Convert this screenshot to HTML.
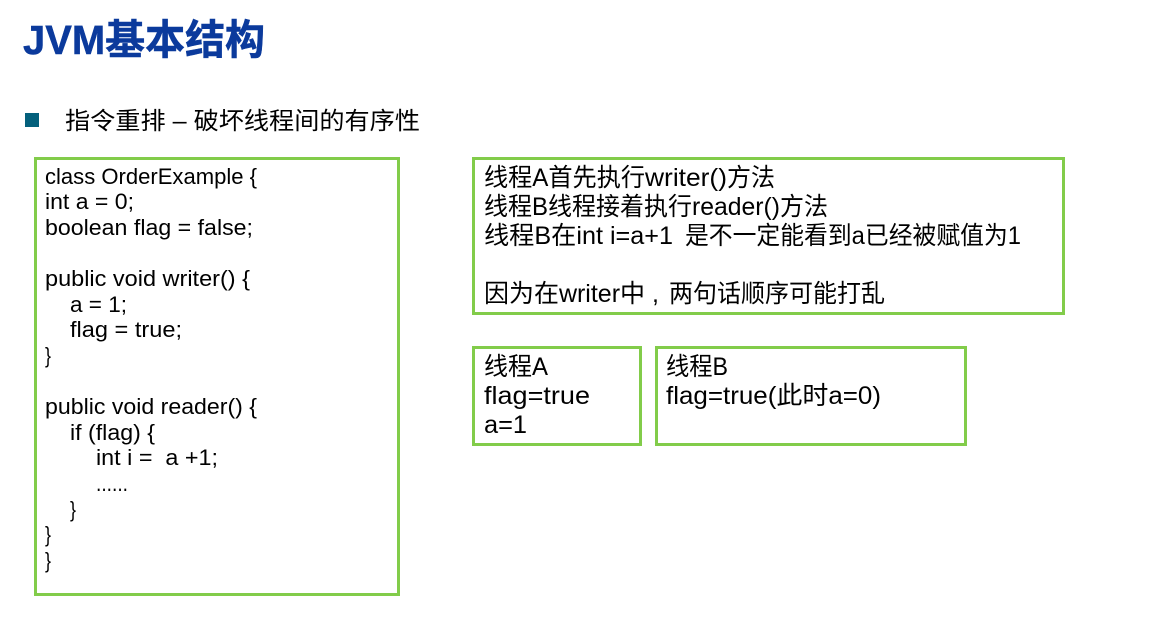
<!DOCTYPE html>
<html>
<head>
<meta charset="utf-8">
<style>
html,body{margin:0;padding:0;background:#fff;width:1163px;height:619px;overflow:hidden}
svg{display:block}
text{font-family:"Liberation Sans","Noto Sans CJK SC",sans-serif;fill:#000}
.c{font-size:22px}
.r{font-size:25px}
</style>
</head>
<body>
<svg width="1163" height="619" viewBox="0 0 1163 619" xmlns="http://www.w3.org/2000/svg">
<rect width="1163" height="619" fill="#fff"/>
<text x="23" y="54" font-size="41" font-weight="bold" style="fill:#0b3a9c;stroke:#0b3a9c;stroke-width:.5" textLength="242" lengthAdjust="spacingAndGlyphs">JVM基本结构</text>
<rect x="25" y="113" width="14" height="14" fill="#04607c"/>
<text x="65" y="129" font-size="24" textLength="355" lengthAdjust="spacingAndGlyphs">指令重排 – 破坏线程间的有序性</text>

<g fill="none" stroke="#82cc4a" stroke-width="3">
<rect x="35.5" y="158.5" width="363" height="436"/>
<rect x="473.5" y="158.5" width="590" height="155"/>
<rect x="473.5" y="347.5" width="167" height="97"/>
<rect x="656.5" y="347.5" width="309" height="97"/>
</g>

<text class="c" x="45" y="184" textLength="212" lengthAdjust="spacingAndGlyphs">class OrderExample {</text>
<text class="c" x="45" y="209" textLength="89" lengthAdjust="spacingAndGlyphs">int a = 0;</text>
<text class="c" x="45" y="235" textLength="208" lengthAdjust="spacingAndGlyphs">boolean flag = false;</text>
<text class="c" x="45" y="286" textLength="205" lengthAdjust="spacingAndGlyphs">public void writer() {</text>
<text class="c" x="70" y="312" textLength="57" lengthAdjust="spacingAndGlyphs">a = 1;</text>
<text class="c" x="70" y="337" textLength="112" lengthAdjust="spacingAndGlyphs">flag = true;</text>
<text class="c" x="45" y="363" textLength="6" lengthAdjust="spacingAndGlyphs">}</text>
<text class="c" x="45" y="414" textLength="212" lengthAdjust="spacingAndGlyphs">public void reader() {</text>
<text class="c" x="70" y="440" textLength="85" lengthAdjust="spacingAndGlyphs">if (flag) {</text>
<text class="c" x="96" y="465" xml:space="preserve" textLength="122" lengthAdjust="spacingAndGlyphs">int i =  a +1;</text>
<text class="c" x="96" y="491" textLength="32" lengthAdjust="spacingAndGlyphs">......</text>
<text class="c" x="70" y="517" textLength="6" lengthAdjust="spacingAndGlyphs">}</text>
<text class="c" x="45" y="542" textLength="6" lengthAdjust="spacingAndGlyphs">}</text>
<text class="c" x="45" y="568" textLength="6" lengthAdjust="spacingAndGlyphs">}</text>

<text class="r" x="484" y="186" textLength="161" lengthAdjust="spacingAndGlyphs">线程A首先执行</text>
<text class="r" x="645" y="186" textLength="82" lengthAdjust="spacingAndGlyphs">writer()</text>
<text class="r" x="727" y="186" textLength="48" lengthAdjust="spacingAndGlyphs">方法</text>
<text class="r" x="484" y="215" textLength="208" lengthAdjust="spacingAndGlyphs">线程B线程接着执行</text>
<text class="r" x="692" y="215" textLength="88" lengthAdjust="spacingAndGlyphs">reader()</text>
<text class="r" x="780" y="215" textLength="48" lengthAdjust="spacingAndGlyphs">方法</text>
<text class="r" x="484" y="244" textLength="189" lengthAdjust="spacingAndGlyphs">线程B在int i=a+1</text>
<text class="r" x="685" y="244" textLength="336" lengthAdjust="spacingAndGlyphs">是不一定能看到a已经被赋值为1</text>
<text class="r" x="484" y="302" textLength="161" lengthAdjust="spacingAndGlyphs">因为在writer中</text>
<text class="r" x="652" y="302">,</text>
<text class="r" x="669" y="302" textLength="216" lengthAdjust="spacingAndGlyphs">两句话顺序可能打乱</text>

<text class="r" x="484" y="375" textLength="64" lengthAdjust="spacingAndGlyphs">线程A</text>
<text class="r" x="484" y="404" textLength="106" lengthAdjust="spacingAndGlyphs">flag=true</text>
<text class="r" x="484" y="433" textLength="43" lengthAdjust="spacingAndGlyphs">a=1</text>

<text class="r" x="666" y="375" textLength="62" lengthAdjust="spacingAndGlyphs">线程B</text>
<text class="r" x="666" y="404" textLength="215" lengthAdjust="spacingAndGlyphs">flag=true(此时a=0)</text>
</svg>
</body>
</html>
